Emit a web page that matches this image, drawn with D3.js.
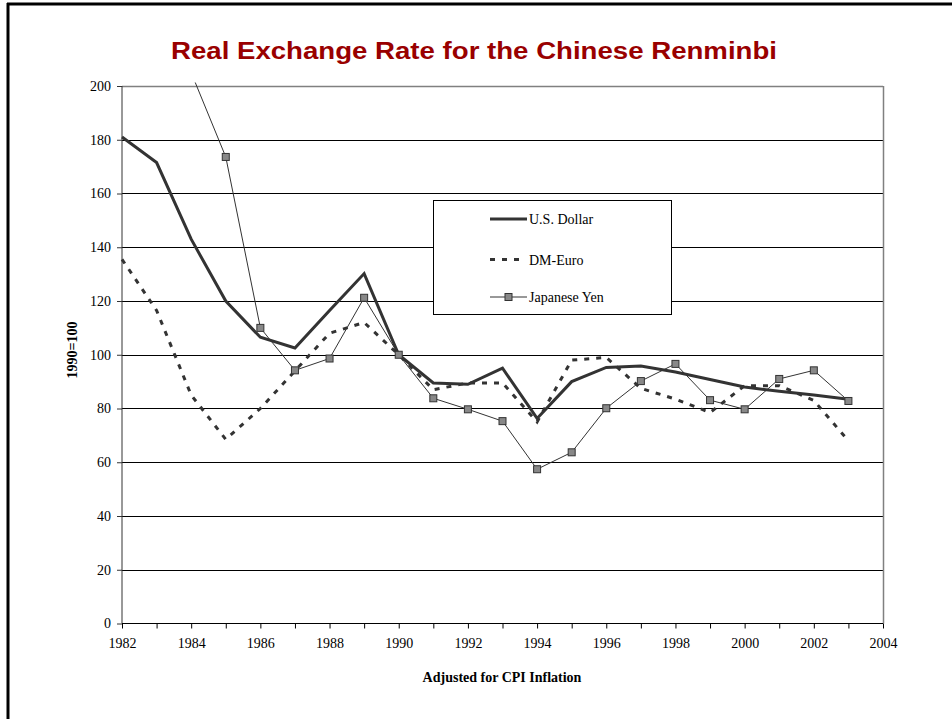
<!DOCTYPE html>
<html>
<head>
<meta charset="utf-8">
<script src="https://cdn.jsdelivr.net/npm/d3@7"></script>
<style>
  html, body { margin: 0; padding: 0; background: #fff; }
  svg { display: block; }
</style>
</head>
<body>
<script>
// ---- data ----
const years = [1982,1983,1984,1985,1986,1987,1988,1989,1990,1991,1992,1993,1994,1995,1996,1997,1998,1999,2000,2001,2002,2003];
const usDollar = [181,171.5,143,120,106.5,102.5,116.5,130.2,100,89.5,89,95,76.3,90,95.3,95.8,93.6,90.8,88,86.4,85,83.4];
const dmEuro = [135.5,116.5,85,68.5,80,94,108,112,100,87,89.5,89.5,75,98,99,87.5,83.5,78.5,88.5,88.5,83,68];
const japaneseYen = [null,null,205,173.6,110,94.2,98.6,121.2,100,83.8,79.7,75.3,57.4,63.7,80.1,90.2,96.6,83.1,79.7,91,94.2,82.8];
const seriesNames = ["U.S. Dollar","DM-Euro","Japanese Yen"];
const xTickLabels = [1982,1984,1986,1988,1990,1992,1994,1996,1998,2000,2002,2004];
const yTickLabels = [0,20,40,60,80,100,120,140,160,180,200];
const title = "Real Exchange Rate for the Chinese Renminbi";
const xTitle = "Adjusted for CPI Inflation";
const yTitle = "1990=100";

const W = 952, H = 719;
const svg = d3.select("body").append("svg").attr("width", W).attr("height", H);

// frame
svg.append("line").attr("x1", 7).attr("x2", W).attr("y1", 4).attr("y2", 4)
  .attr("stroke", "#000").attr("stroke-width", 3);
svg.append("line").attr("x1", 8).attr("x2", 8).attr("y1", 3).attr("y2", H)
  .attr("stroke", "#000").attr("stroke-width", 3);

const plot = { left: 122, right: 883, top: 86, bottom: 623.5 };
const x = d3.scaleLinear().domain([1982, 2004]).range([plot.left, plot.right]);
const y = d3.scaleLinear().domain([0, 200]).range([plot.bottom, plot.top]);

const serif = "'Liberation Serif', 'Times New Roman', serif";

// title
svg.append("text").attr("x", 474).attr("y", 59).attr("text-anchor", "middle")
  .attr("font-family", "'Liberation Sans', Arial, sans-serif").attr("font-weight", "bold")
  .attr("font-size", 23.5).attr("fill", "#990000")
  .attr("textLength", 606).attr("lengthAdjust", "spacingAndGlyphs")
  .text(title);

// gridlines
svg.append("g").selectAll("line").data(yTickLabels.filter(v => v > 0)).join("line")
  .attr("x1", plot.left).attr("x2", plot.right)
  .attr("y1", d => Math.round(y(d)) + 0.5).attr("y2", d => Math.round(y(d)) + 0.5)
  .attr("stroke", d => d === 200 ? "#808080" : "#000").attr("stroke-width", d => d === 200 ? 1.5 : 1);
// right plot border
svg.append("line").attr("x1", plot.right + 0.5).attr("x2", plot.right + 0.5)
  .attr("y1", plot.top).attr("y2", plot.bottom).attr("stroke", "#808080").attr("stroke-width", 1.5);

// y axis
const yAxis = d3.axisLeft(y).tickValues(yTickLabels).tickSize(5).tickPadding(6).tickFormat(d3.format("d"));
const gy = svg.append("g").attr("transform", `translate(${plot.left},0)`).call(yAxis)
  .attr("font-family", serif).attr("font-size", 14);
gy.select(".domain").attr("stroke", "#333").attr("d", `M0,${plot.top}V${plot.bottom}`);
gy.selectAll(".tick line").attr("stroke", "#333");
gy.selectAll(".tick text").attr("font-family", serif).attr("font-size", 14).attr("fill", "#000");

// x axis
const xAxis = d3.axisBottom(x).tickValues(d3.range(1982, 2005)).tickSize(5).tickPadding(10)
  .tickFormat(d => xTickLabels.includes(d) ? String(d) : "");
const gx = svg.append("g").attr("transform", `translate(0,${plot.bottom})`).call(xAxis)
  .attr("font-family", serif).attr("font-size", 14);
gx.select(".domain").attr("stroke", "#000").attr("d", `M${plot.left},0H${plot.right}`);
gx.selectAll(".tick line").attr("stroke", "#000");
gx.selectAll(".tick text").attr("font-family", serif).attr("font-size", 14).attr("fill", "#000");

// axis titles
svg.append("text").attr("x", 502).attr("y", 682).attr("text-anchor", "middle")
  .attr("font-family", serif).attr("font-weight", "bold")
  .attr("font-size", 14).text(xTitle);
svg.append("text").attr("transform", "translate(77,350) rotate(-90)").attr("text-anchor", "middle")
  .attr("font-family", serif).attr("font-weight", "bold")
  .attr("font-size", 14).text(yTitle);

// clip
svg.append("defs").append("clipPath").attr("id", "clip").append("rect")
  .attr("x", plot.left - 6).attr("y", plot.top - 3.5).attr("width", plot.right - plot.left + 12).attr("height", plot.bottom - plot.top + 10);

const line = d3.line().defined(d => d[1] != null).x(d => x(d[0])).y(d => y(d[1]));
const zip = arr => years.map((yr, i) => [yr, arr[i]]);
const g = svg.append("g").attr("clip-path", "url(#clip)");

g.append("path").datum(zip(dmEuro)).attr("d", line).attr("fill", "none")
  .attr("stroke", "#333").attr("stroke-width", 3).attr("stroke-dasharray", "5,7");
g.append("path").datum(zip(japaneseYen)).attr("d", line).attr("fill", "none")
  .attr("stroke", "#333").attr("stroke-width", 1);
g.append("path").datum(zip(usDollar)).attr("d", line).attr("fill", "none")
  .attr("stroke", "#333").attr("stroke-width", 3).attr("stroke-linejoin", "miter");
g.selectAll("rect.m").data(zip(japaneseYen).filter(d => d[1] != null && d[1] <= 200)).join("rect")
  .attr("class", "m").attr("x", d => x(d[0]) - 3.5).attr("y", d => y(d[1]) - 3.5)
  .attr("width", 7).attr("height", 7).attr("fill", "#888").attr("stroke", "#333").attr("stroke-width", 1);

// legend
const lg = svg.append("g");
lg.append("rect").attr("x", 433.5).attr("y", 200.5).attr("width", 238).attr("height", 114)
  .attr("fill", "#fff").attr("stroke", "#000").attr("stroke-width", 1);
const ly = [219, 259.5, 297];
const styles = [
  { w: 3, dash: null, marker: false, x1: 490, x2: 527 },
  { w: 3, dash: "5,7", marker: false, x1: 490, x2: 521 },
  { w: 1, dash: null, marker: true, x1: 490, x2: 527 }
];
seriesNames.forEach((name, i) => {
  const s = styles[i];
  const l = lg.append("line").attr("x1", s.x1).attr("x2", s.x2).attr("y1", ly[i]).attr("y2", ly[i])
    .attr("stroke", "#333").attr("stroke-width", s.w);
  if (s.dash) l.attr("stroke-dasharray", s.dash);
  if (s.marker) lg.append("rect").attr("x", 508.5 - 3.5).attr("y", ly[i] - 3.5).attr("width", 7).attr("height", 7)
    .attr("fill", "#888").attr("stroke", "#333");
  lg.append("text").attr("x", 529).attr("y", ly[i] + 5)
    .attr("font-family", serif).attr("font-size", 14)
    .text(name);
});
</script>
</body>
</html>
